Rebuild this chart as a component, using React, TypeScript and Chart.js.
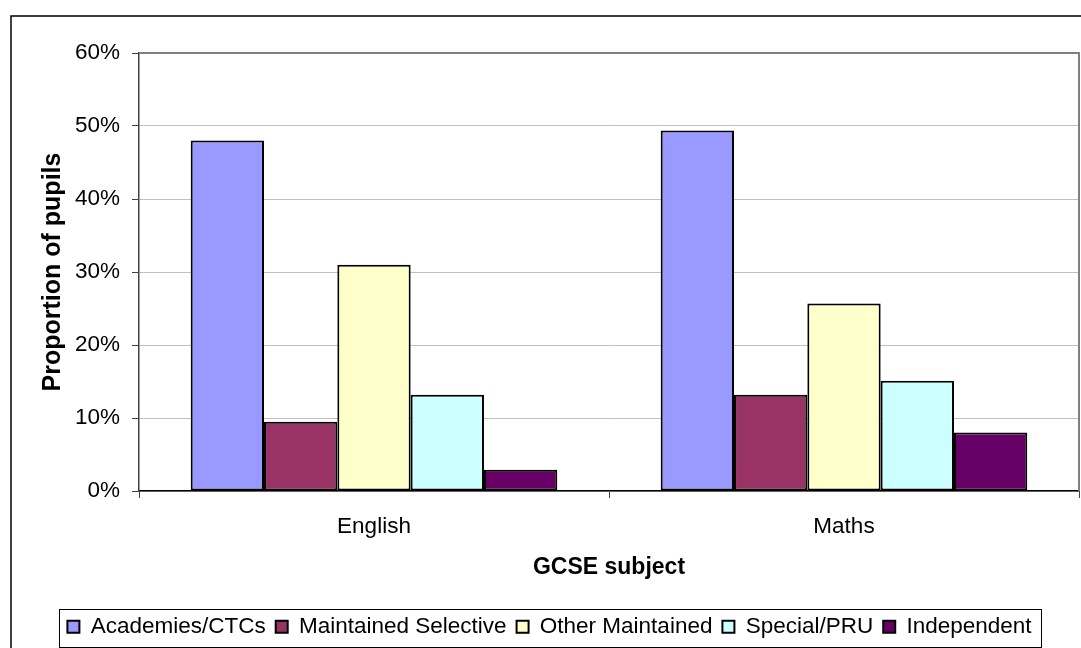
import { useEffect, useRef } from 'react';
import { Chart, registerables } from 'chart.js';

Chart.register(...registerables);

const categories = ['English', 'Maths'];
const seriesNames = ['Academies/CTCs', 'Maintained Selective', 'Other Maintained', 'Special/PRU', 'Independent'];
const academies = [48.0, 49.4];
const maintainedSelective = [9.5, 13.2];
const otherMaintained = [31.0, 25.7];
const specialPRU = [13.2, 15.1];
const independent = [2.9, 8.0];
const seriesColors = ['#9999FF', '#993366', '#FFFFCC', '#CCFFFF', '#660066'];
const yMin = 0;
const yMax = 60;
const yStep = 10;
const xTitle = 'GCSE subject';
const yTitle = 'Proportion of pupils';

const FONT = "'Liberation Sans', Arial, sans-serif";

const framePlugin = {
  id: 'framePlugin',
  beforeDraw(chart: any) {
    const { ctx, width, height } = chart;
    ctx.save();
    ctx.fillStyle = '#ffffff';
    ctx.fillRect(0, 0, width, height);
    ctx.strokeStyle = '#000000';
    ctx.lineWidth = 1.5;
    ctx.strokeRect(11, 16, width + 50, height + 50);
    ctx.restore();
  },
  beforeDatasetsDraw(chart: any) {
    const { ctx, chartArea } = chart;
    ctx.save();
    ctx.strokeStyle = '#808080';
    ctx.lineWidth = 2;
    ctx.beginPath();
    ctx.moveTo(chartArea.left, chartArea.top);
    ctx.lineTo(chartArea.right, chartArea.top);
    ctx.lineTo(chartArea.right, chartArea.bottom);
    ctx.stroke();
    ctx.restore();
  },
  afterDraw(chart: any) {
    const legend = chart.legend;
    if (!legend || !legend.legendHitBoxes || !legend.legendHitBoxes.length) return;
    const hb = legend.legendHitBoxes;
    let l = Infinity, r = -Infinity, t = Infinity, b = -Infinity;
    hb.forEach((h: any) => {
      l = Math.min(l, h.left);
      r = Math.max(r, h.left + h.width);
      t = Math.min(t, h.top);
      b = Math.max(b, h.top + h.height);
    });
    const { ctx } = chart;
    ctx.save();
    ctx.strokeStyle = '#000000';
    ctx.lineWidth = 1;
    const x0 = Math.round(l - 8) + 0.5;
    const y0 = Math.round(t - 6.5) + 0.5;
    const x1 = Math.round(r + 9) + 0.5;
    const y1 = Math.round(b + 9) + 0.5;
    ctx.strokeRect(x0, y0, x1 - x0, y1 - y0);
    ctx.restore();
  },
};

export default function App() {
  const canvasRef = useRef<HTMLCanvasElement | null>(null);

  useEffect(() => {
    if (!canvasRef.current) return;
    Chart.defaults.font.family = FONT;
    Chart.defaults.color = '#000000';
    const values = [academies, maintainedSelective, otherMaintained, specialPRU, independent];
    const chart = new Chart(canvasRef.current, {
      type: 'bar',
      data: {
        labels: categories,
        datasets: seriesNames.map((name, i) => ({
          label: name,
          data: values[i],
          backgroundColor: seriesColors[i],
          borderColor: '#000000',
          borderWidth: 2,
          borderSkipped: false,
          categoryPercentage: 0.78,
          barPercentage: 1.0,
        })),
      },
      options: {
        responsive: false,
        animation: false,
        devicePixelRatio: 1,
        layout: { padding: { left: 20, top: 53, right: 2, bottom: 0 } },
        plugins: {
          legend: {
            position: 'bottom',
            labels: {
              boxWidth: 12,
              boxHeight: 12,
              padding: 10,
              font: { size: 22.5, family: FONT },
              color: '#000000',
            },
          },
          tooltip: { enabled: false },
        },
        scales: {
          x: {
            afterFit: (scale: any) => { scale.height = 114.5; },
            grid: {
              display: true,
              offset: true,
              drawOnChartArea: false,
              drawTicks: true,
              tickLength: 7,
              tickColor: '#404040',
            },
            border: { display: true, color: '#000000', width: 1.5 },
            ticks: { font: { size: 22.5, family: FONT }, color: '#000000', padding: 15 },
            title: {
              display: true,
              text: xTitle,
              font: { size: 23, weight: 'bold', family: FONT },
              color: '#000000',
              padding: { top: 4, bottom: 24 },
            },
          },
          y: {
            min: yMin,
            max: yMax,
            afterFit: (scale: any) => { scale.width = 119; },
            grid: {
              color: '#c0c0c0',
              lineWidth: 1,
              drawTicks: true,
              tickLength: 7,
              tickColor: '#404040',
            },
            border: { display: true, color: '#404040', width: 1.5 },
            ticks: {
              stepSize: yStep,
              font: { size: 22.5, family: FONT },
              color: '#000000',
              padding: 12,
              callback: (v: any) => `${v}%`,
            },
            title: {
              display: true,
              text: yTitle,
              font: { size: 25, weight: 'bold', family: FONT },
              color: '#000000',
              padding: { top: 18, bottom: 4 },
            },
          },
        },
      },
      plugins: [framePlugin],
    } as any);
    return () => chart.destroy();
  }, []);

  return (
    <div style={{ position: 'fixed', left: 0, top: 0, width: 1081, height: 648, background: '#fff' }}>
      <canvas ref={canvasRef} width={1081} height={648} style={{ display: 'block' }} />
    </div>
  );
}
